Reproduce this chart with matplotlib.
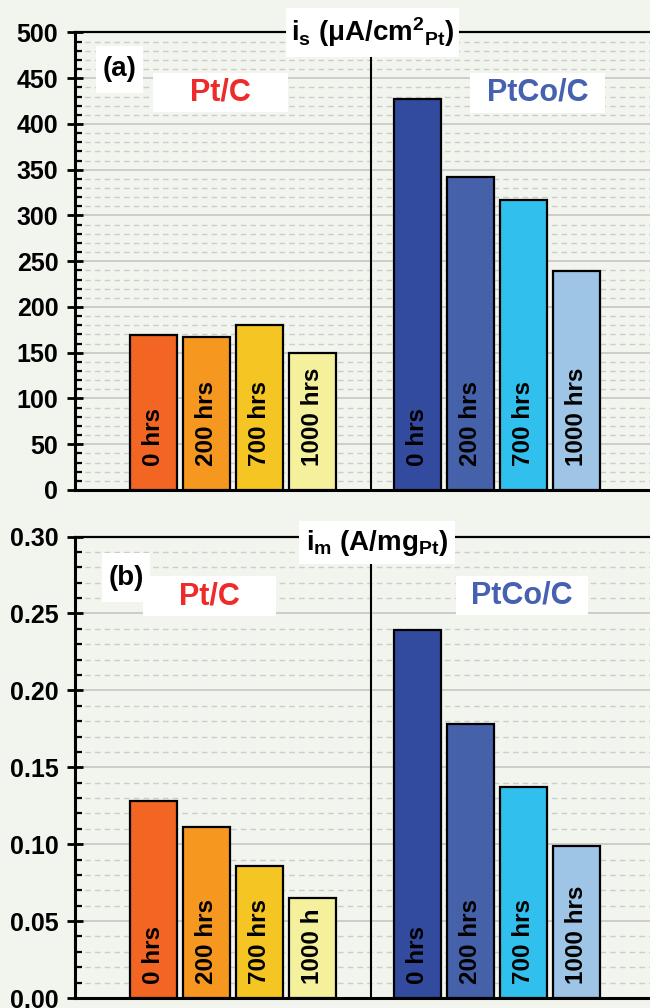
import numpy as np
import matplotlib.pyplot as plt
from matplotlib.patches import Rectangle

# ----- dados -----
tempos = ["0 hrs", "200 hrs", "700 hrs", "1000 hrs"]
tempos_b = ["0 hrs", "200 hrs", "700 hrs", "1000 h"]   # rótulo cortado no painel (b)
catalisadores = ["Pt/C", "PtCo/C"]

is_ptc = [169, 167, 180, 150]        # uA/cm2_Pt
is_ptco = [427, 342, 317, 239]
im_ptc = [0.128, 0.111, 0.086, 0.065]  # A/mg_Pt
im_ptco = [0.239, 0.178, 0.137, 0.099]

cores_ptc = ["#f26522", "#f6981f", "#f4c523", "#f5f09c"]
cores_ptco = ["#334b9e", "#4561aa", "#31c0ee", "#9ec4e6"]

fundo = "#f2f4ee"
plt.rcParams["font.family"] = ["Liberation Sans", "DejaVu Sans"]
plt.rcParams["font.weight"] = "bold"
plt.rcParams["mathtext.fontset"] = "custom"
plt.rcParams["mathtext.rm"] = "Liberation Sans:bold"
plt.rcParams["mathtext.it"] = "Liberation Sans:bold"
plt.rcParams["mathtext.bf"] = "Liberation Sans:bold"

fig = plt.figure(figsize=(6.5, 10.08), dpi=100)
fig.patch.set_facecolor(fundo)

ax_a = fig.add_axes([0.1154, 0.5139, 0.8846, 0.4539])
ax_b = fig.add_axes([0.1154, 0.0099, 0.8846, 0.4578])

x_ptc = np.arange(4)
x_ptco = np.arange(4) + 5


def caixa(ax, x0, y0, x1, y1, texto, cor, tam):
    ax.add_patch(Rectangle((x0, y0), x1 - x0, y1 - y0, transform=ax.transAxes,
                           facecolor="white", edgecolor="none", zorder=5, clip_on=False))
    ax.text((x0 + x1) / 2, (y0 + y1) / 2, texto, transform=ax.transAxes, color=cor,
            fontsize=tam, fontweight="bold", ha="center", va="center", zorder=6)


def painel(ax, v_ptc, v_ptco, rotulos, ymax, maior, menor, fmt, desloc):
    ax.set_facecolor(fundo)
    ax.bar(x_ptc, v_ptc, width=0.89, color=cores_ptc, edgecolor="black", linewidth=1.6, zorder=3)
    ax.bar(x_ptco, v_ptco, width=0.89, color=cores_ptco, edgecolor="black", linewidth=1.6, zorder=3)
    for xs, labs in [(x_ptc, rotulos), (x_ptco, tempos)]:
        for x, lab in zip(xs, labs):
            ax.annotate(lab, (x, 0), xytext=(0, desloc), textcoords="offset points",
                        rotation=90, ha="center", va="bottom", fontsize=17.5,
                        fontweight="bold", zorder=4)
    ax.axvline(4.115, color="black", lw=1.5, zorder=2)
    ax.set_xlim(-1.493, 9.40)
    ax.set_ylim(0, ymax)
    ax.set_xticks([])
    ax.set_yticks(np.arange(0, ymax + maior / 2, maior))
    ax.set_yticks(np.arange(0, ymax + menor / 2, menor), minor=True)
    ax.yaxis.set_major_formatter(plt.FormatStrFormatter(fmt))
    ax.grid(axis="y", which="major", color="#c6c6c6", lw=1.2, zorder=0)
    ax.grid(axis="y", which="minor", color="#cccccc", lw=1.0, ls=(0, (4, 3)), zorder=0)
    ax.tick_params(axis="y", which="major", direction="inout", length=12, width=2,
                   labelsize=18, pad=6)
    ax.tick_params(axis="y", which="minor", direction="in", length=5, width=1.6)
    for lab in ax.get_yticklabels():
        lab.set_fontweight("bold")
    ax.spines["right"].set_visible(False)
    ax.spines["left"].set_linewidth(2.2)
    ax.spines["bottom"].set_linewidth(2.2)
    ax.spines["top"].set_linewidth(1.6)


painel(ax_a, is_ptc, is_ptco, tempos, 500, 50, 10, "%d", 17)
painel(ax_b, im_ptc, im_ptco, tempos_b, 0.30, 0.05, 0.01, "%.2f", 10)

# caixas de texto do painel (a)
caixa(ax_a, 0.367, 0.9464, 0.668, 1.0536, "i$_\\mathrm{s}$ (μA/cm$^\\mathrm{2}$$_\\mathrm{Pt}$)", "black", 20)
caixa(ax_a, 0.0365, 0.8678, 0.1183, 0.9705, "(a)", "black", 20)
caixa(ax_a, 0.1357, 0.8262, 0.3704, 0.9115, catalisadores[0], "#ee2a2a", 22)
caixa(ax_a, 0.6873, 0.8247, 0.9226, 0.9121, catalisadores[1], "#4561b0", 22)

# caixas de texto do painel (b)
caixa(ax_b, 0.3896, 0.9404, 0.6609, 1.0336, "i$_\\mathrm{m}$ (A/mg$_\\mathrm{Pt}$)", "black", 20)
caixa(ax_b, 0.047, 0.858, 0.1304, 0.9642, "(b)", "black", 20)
caixa(ax_b, 0.1183, 0.8277, 0.3496, 0.9144, catalisadores[0], "#ee2a2a", 22)
caixa(ax_b, 0.6626, 0.8299, 0.8922, 0.9151, catalisadores[1], "#4561b0", 22)

fig.savefig("out.png", dpi=100, facecolor=fundo)
